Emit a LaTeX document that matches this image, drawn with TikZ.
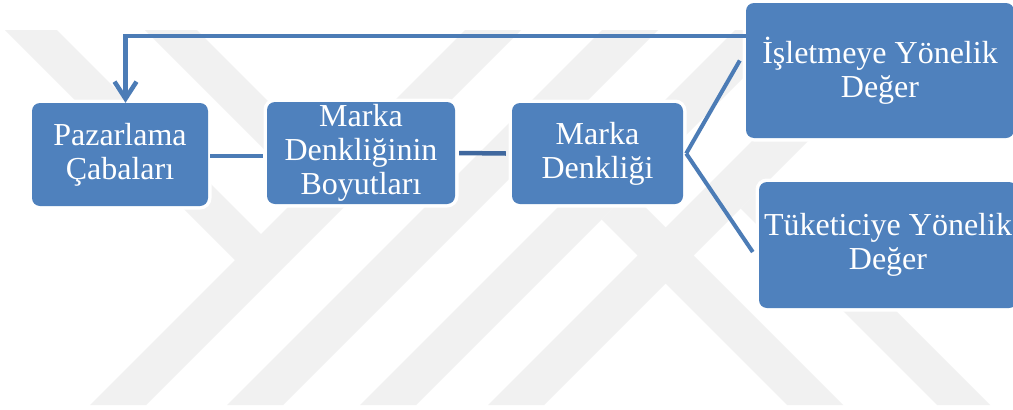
\documentclass[tikz,border=0pt]{standalone}
\usepackage{fontspec}
\setmainfont{Liberation Serif}
\usetikzlibrary{arrows.meta}

\definecolor{boxblue}{RGB}{79,129,189}
\definecolor{lineblue}{RGB}{76,124,182}
\definecolor{darkline}{RGB}{64,104,158}
\definecolor{mark}{RGB}{241,241,241}

\tikzset{
  blockbox/.style={
    rectangle, rounded corners=8pt, fill=boxblue, text=white,
    preaction={draw=white, line width=7pt},
    align=center, inner sep=0pt,
    font=\fontsize{32}{34}\selectfont
  },
  link/.style={draw=lineblue, line width=4.5pt},
  darklink/.style={draw=darkline, line width=4.5pt},
  slant/.style={draw=lineblue, line width=4pt},
  band/.style={fill=mark}
}

\begin{document}
\begin{tikzpicture}[x=1pt, y=-1pt]
  \useasboundingbox (0,0) rectangle (1013,410);
  \fill[white] (0,0) rectangle (1013,410);

  % light diagonal background emblem
  \begin{scope}
    \clip (0,30) rectangle (1013,405);
    \foreach \L in {90,227,360,488}
      \fill[band] (\L,405) -- (\L+56,405) -- (\L+431,30) -- (\L+375,30) -- cycle;
    \fill[band] (5,30) -- (57,30) -- (289,262) -- (235,260) -- cycle;
    \fill[band] (145,30) -- (197,30) -- (331,164) -- (305,190) -- cycle;
    \fill[band] (601.5,219.5) -- (629.5,191.5) -- (843,405) -- (787,405) -- cycle;
    \fill[band] (740.5,208.5) -- (767,182) -- (990,405) -- (937,405) -- cycle;
  \end{scope}

  % blocks
  \node[blockbox, minimum width=176pt, minimum height=103pt] (b1) at (120,154.5) {Pazarlama\\Çabaları};
  \node[blockbox, minimum width=188pt, minimum height=102pt] (b2) at (361,153) {Marka\\Denkliğinin\\Boyutları};
  \node[blockbox, minimum width=171pt, minimum height=101pt] (b3) at (597.5,153.5) {Marka\\Denkliği};
  \node[blockbox, minimum width=268pt, minimum height=135pt] (b4) at (880,70.5) {İşletmeye Yönelik\\Değer};
  \node[blockbox, minimum width=258pt, minimum height=126pt] (b5) at (888,245) {Tüketiciye Yönelik\\Değer};

  % connectors between blocks
  \draw[link] ([xshift=2pt,yshift=-1.5pt]b1.east) -- ([xshift=-3.5pt,yshift=-1.5pt]b1.east -| b2.west);
  \draw[darklink] ([xshift=4pt]b2.east) -- ([xshift=-6pt]b3.west);
  \draw[slant] ([xshift=3pt]b3.east) -- ([xshift=-6pt,yshift=10pt]b4.west);
  \draw[slant] ([xshift=3pt]b3.east) -- ([xshift=-6pt,yshift=-7pt]b5.west);

  % feedback loop back to the first block
  \coordinate (fb) at (0,36);
  \coordinate (tip) at ([xshift=5.5pt]b1.north);
  \draw[link, -{Straight Barb[length=17pt, width=22pt]}]
    (fb -| b4.west) -- (fb -| tip) -- (tip);
\end{tikzpicture}
\end{document}
